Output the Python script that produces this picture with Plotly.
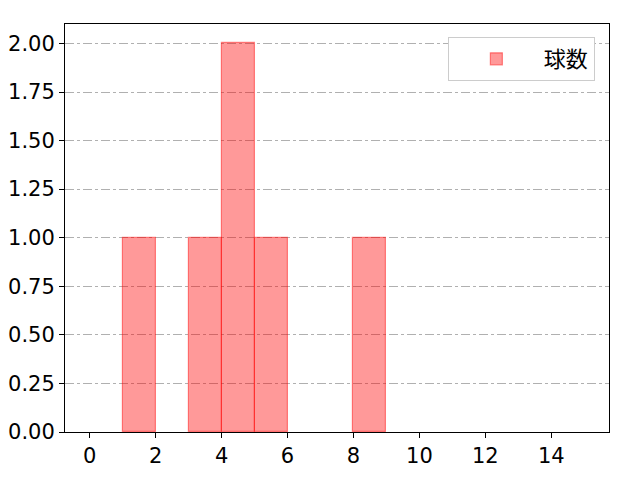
import plotly.graph_objects as go

bin_left = list(range(0, 15))
counts = [0, 1, 0, 1, 2, 1, 0, 0, 1, 0, 0, 0, 0, 0, 0]
series_name = "球数"
x_ticks = [0, 2, 4, 6, 8, 10, 12, 14]
y_ticks = [0, 0.25, 0.5, 0.75, 1.0, 1.25, 1.5, 1.75, 2.0]

fig = go.Figure()
fig.add_trace(go.Bar(
    x=bin_left, y=[c if c else None for c in counts], width=1, offset=0, name=series_name,
    marker=dict(color="rgba(255,0,0,0.4)", line=dict(color="rgba(255,0,0,0.45)", width=1.2)),
    showlegend=True,
))

tick_font = dict(family="DejaVu Sans, Noto Sans CJK JP, sans-serif", size=21, color="black")
fig.update_layout(
    width=640, height=480,
    margin=dict(l=57, r=39, t=16, b=56, autoexpand=False),
    plot_bgcolor="white", paper_bgcolor="white",
    font=dict(family="Noto Sans CJK JP, sans-serif", size=22, color="black"),
    bargap=0,
    legend=dict(x=0.974, y=0.968, xanchor="right", yanchor="top",
                bordercolor="#cccccc", borderwidth=1, bgcolor="white",
                itemwidth=85, font=dict(size=22, family="Noto Sans CJK JP, sans-serif")),
    xaxis=dict(range=[-0.75, 15.75], tickvals=x_ticks, showgrid=False, tickfont=tick_font,
               showline=True, linecolor="black", linewidth=1, mirror=True,
               ticks="outside", ticklen=5, tickcolor="black", zeroline=False,
               layer="above traces", automargin=False),
    yaxis=dict(range=[0, 2.1], tickvals=y_ticks, tickformat=".2f", tickfont=tick_font,
               showgrid=True, gridcolor="#b0b0b0", griddash="dashdot", gridwidth=1,
               showline=True, linecolor="black", linewidth=1, mirror=True,
               ticks="outside", ticklen=5, tickcolor="black", zeroline=False,
               automargin=False),
)
fig.write_html("out.html")
